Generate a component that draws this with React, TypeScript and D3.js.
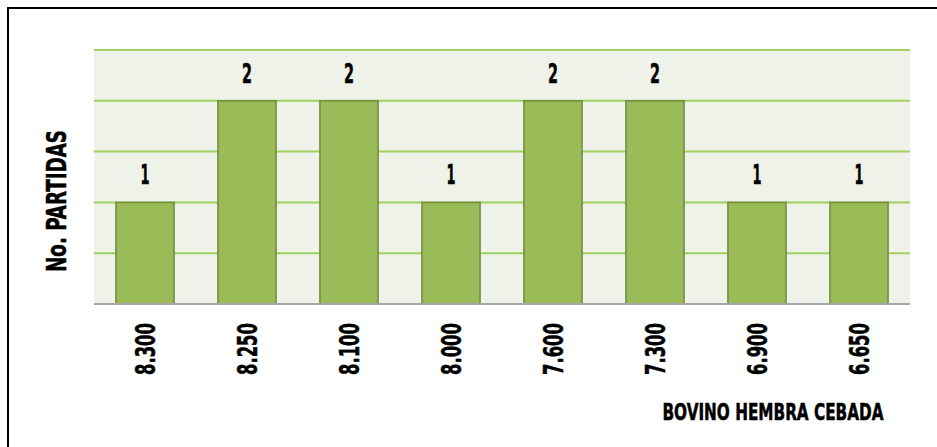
import React from 'react'
import * as d3 from 'd3'

const categories = ['8.300', '8.250', '8.100', '8.000', '7.600', '7.300', '6.900', '6.650']
const values = [1, 2, 2, 1, 2, 2, 1, 1]
const yTicks = [0, 0.5, 1, 1.5, 2, 2.5]

const FONT = '"DejaVu Sans Condensed", "DejaVu Sans", sans-serif'

export default function App() {
	const width = 937
	const height = 447
	const left = 94
	const right = 910
	const top = 50
	const bottom = 304

	const x = d3.scaleBand().domain(categories).range([left, right]).paddingInner(0.43).paddingOuter(0.215)
	const y = d3.scaleLinear().domain([0, 2.5]).range([bottom, top])

	// texto condensado: se fuerza el largo con textLength
	const txt = { fontFamily: FONT, fontWeight: 'bold' as const, lengthAdjust: 'spacingAndGlyphs', stroke: '#000', strokeWidth: 0.5 }

	return (
		<svg width={width} height={height} style={{ position: 'absolute', left: 0, top: 0 }}>
			<rect x={0} y={0} width={width} height={height} fill="#fff" />
			<path d={`M8,${height}V8H${width}`} fill="none" stroke="#000" strokeWidth={2} />
			<rect x={left} y={top} width={right - left} height={bottom - top} fill="#eff2e9" />
			{yTicks.slice(1).map((t) => (
				<line key={t} x1={left} x2={right} y1={y(t)} y2={y(t)} stroke="#9fd05f" strokeWidth={2} />
			))}
			{categories.map((c, i) => (
				<rect key={c} x={x(c)} y={y(values[i])} width={x.bandwidth()} height={bottom - y(values[i])}
					fill="#9bbb59" stroke="#718c3f" strokeWidth={1.5} />
			))}
			<line x1={left} x2={right} y1={bottom} y2={bottom} stroke="#a6a6a6" strokeWidth={2} />
			{categories.map((c, i) => (
				<text key={c} x={x(c)! + x.bandwidth() / 2} y={y(values[i]) - 18} textAnchor="middle"
					fontSize={26} textLength={String(values[i]) === '1' ? 9 : 10} {...txt}>{values[i]}</text>
			))}
			{categories.map((c) => (
				<text key={c} transform={`translate(${x(c)! + x.bandwidth() / 2 + 10},323) rotate(-90)`} textAnchor="end"
					fontSize={27} textLength={52} {...txt}>{c}</text>
			))}
			<text transform="translate(66,201) rotate(-90)" textAnchor="middle" fontSize={26} textLength={142} {...txt}>No. PARTIDAS</text>
			<text x={773} y={420} textAnchor="middle" fontSize={23} textLength={221} {...txt}>BOVINO HEMBRA CEBADA</text>
		</svg>
	)
}
